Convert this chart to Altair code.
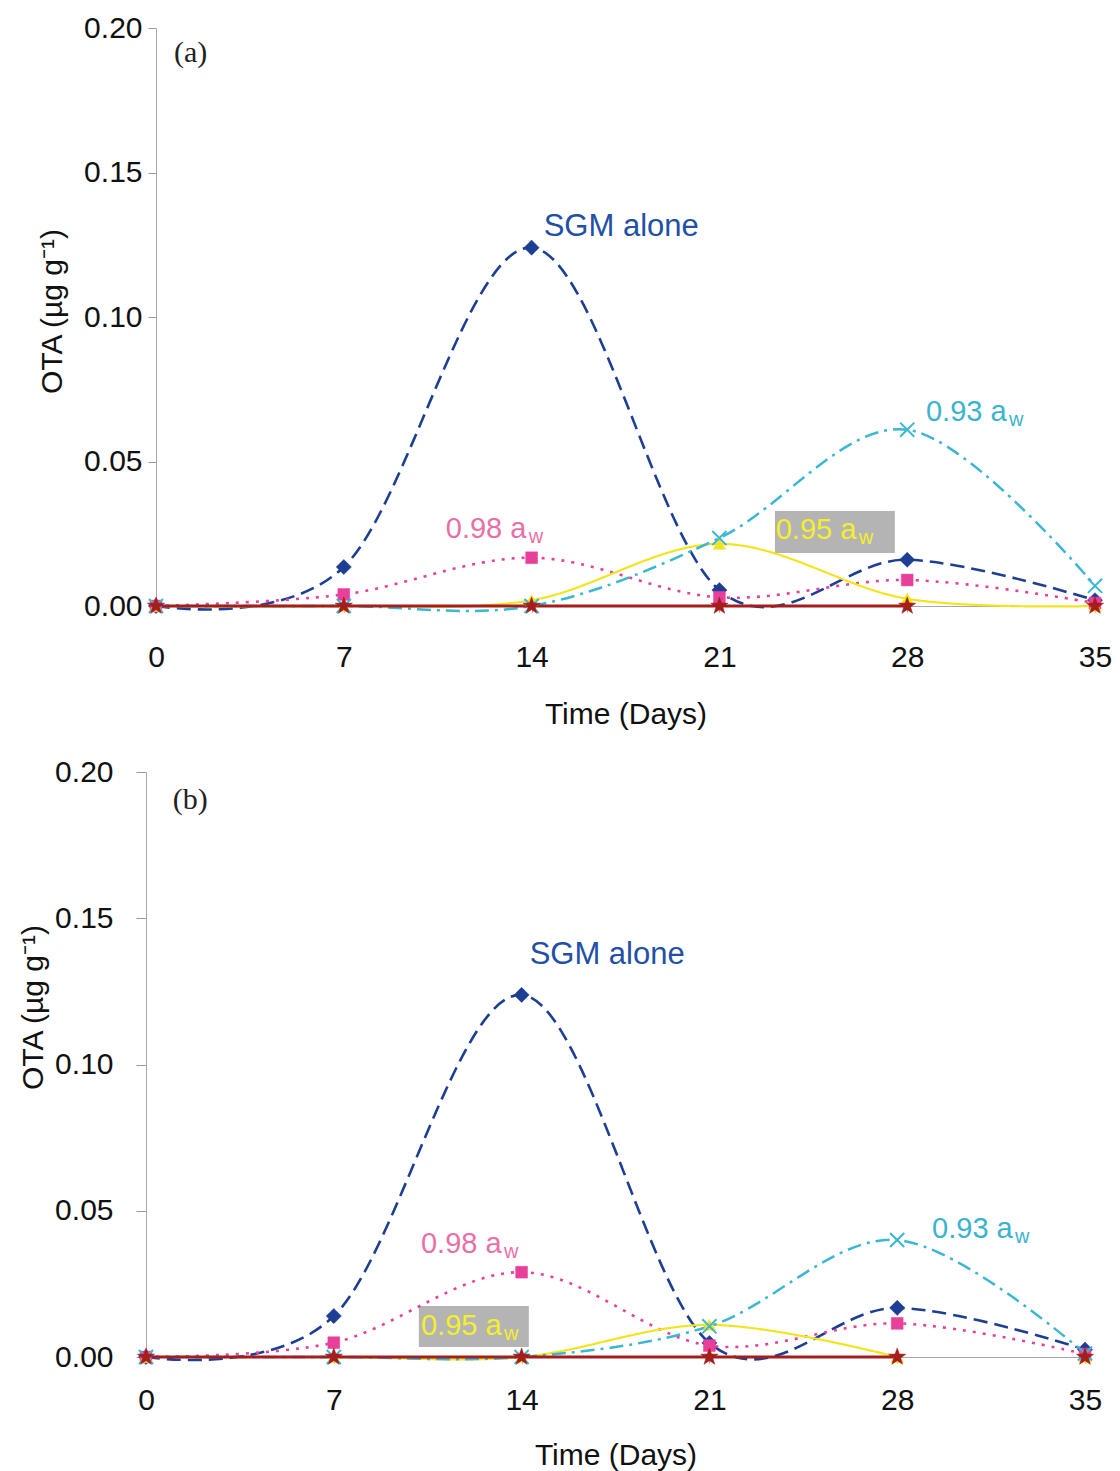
import altair as alt
import pandas as pd

# Sampling days
days = [0, 7, 14, 21, 28, 35]

# Panel (a): OTA (µg/g) per treatment
sgm_a = [0.0, 0.0135, 0.124, 0.0055, 0.016, 0.002]
aw98_a = [0.0, 0.004, 0.0167, 0.003, 0.009, 0.001]
aw95_a = [0.0, 0.0, 0.002, 0.0215, 0.0025, 0.0]
aw93_a = [0.0, 0.0, 0.0, 0.0235, 0.061, 0.007]
base_a = [0.0, 0.0, 0.0, 0.0, 0.0, 0.0]

# Panel (b)
sgm_b = [0.0, 0.014, 0.1238, 0.0048, 0.0168, 0.0025]
aw98_b = [0.0, 0.0049, 0.029, 0.0039, 0.0115, 0.001]
aw95_b = [0.0, 0.0, 0.0, 0.011, 0.0, 0.0]
aw93_b = [0.0, 0.0, 0.0, 0.0105, 0.040, 0.0012]
base_b = [0.0, 0.0, 0.0, 0.0, 0.0, 0.0]

# Last day the connecting line is drawn to (markers are drawn on every day)
line_last_a = [35, 35, 35, 35, 28]
line_last_b = [35, 35, 28, 35, 28]

series_names = ["SGM alone", "0.98 aw", "0.95 aw", "0.93 aw", "baseline"]
series_colors = ["#1c3f94", "#e8409a", "#f3e41e", "#3ab7d2", "#a51d1d"]
series_dash = [[14, 7], [3, 7], [1, 0], [14, 6, 3, 6], [1, 0]]
series_width = [2.6, 2.6, 2.2, 2.5, 2.8]

X_PATH = "M-1,-1L1,1M-1,1L1,-1"
STAR_PATH = ("M0,-1L0.24,-0.33L0.95,-0.31L0.38,0.12L0.59,0.81L0,0.4"
             "L-0.59,0.81L-0.38,0.12L-0.95,-0.31L-0.24,-0.33Z")
series_shape = ["diamond", "square", "triangle-up", X_PATH, STAR_PATH]
series_size = [230, 140, 160, 200, 330]

# Annotations (day, OTA) for each panel
ann_text = ["SGM alone", "0.98 a", "0.93 a", "0.95 a"]
ann_color = ["#2150a6", "#ea6fa9", "#3ab3cf", "#f4ef2c"]
ann_size = [31, 29, 29, 29]
ann_x_a = [14.45, 10.8, 28.7, 23.1]
ann_y_a = [0.131, 0.0268, 0.067, 0.0262]
ann_x_b = [14.3, 10.25, 29.3, 10.25]
ann_y_b = [0.1375, 0.0386, 0.0438, 0.0106]
ann_sub = [False, True, True, True]

# Grey boxes behind the 0.95 aw label
box_a = [23.07, 27.54, 0.0183, 0.0329]
box_b = [10.17, 14.27, 0.0034, 0.0174]

tag_a = ["(a)", 0.67, 0.1915]
tag_b = ["(b)", 1.0, 0.1905]

FONT = "Liberation Sans"
Y_TITLE = "OTA (µg g⁻¹)"


def build_panel(values, line_last, ann_x, ann_y, box, tag, width, height,
                x_range, y_axis, x_axis):
    rows = []
    for name, vals in zip(series_names, values):
        for d, v in zip(days, vals):
            rows.append({"day": d, "ota": v, "series": name})
    df = pd.DataFrame(rows)

    xs = alt.Scale(domain=[0, 35], range=x_range, nice=False, zero=False)
    ys = alt.Scale(domain=[0, 0.2], nice=False)

    base = alt.Chart(df)
    layers = []

    # grey label box
    box_df = pd.DataFrame([{"x": box[0], "x2": box[1], "y": box[2], "y2": box[3]}])
    layers.append(
        alt.Chart(box_df).mark_rect(color="#b0b0b0", opacity=0.95).encode(
            x=alt.X("x:Q", scale=xs, axis=x_axis, title="Time (Days)"),
            x2="x2:Q",
            y=alt.Y("y:Q", scale=ys, axis=y_axis, title=Y_TITLE),
            y2="y2:Q",
        )
    )

    for i, name in enumerate(series_names):
        layers.append(
            base.transform_filter(
                (alt.datum.series == name) & (alt.datum.day <= line_last[i])
            ).mark_line(
                color=series_colors[i],
                strokeDash=series_dash[i],
                strokeWidth=series_width[i],
                interpolate="cardinal",
            ).encode(
                x=alt.X("day:Q", scale=xs),
                y=alt.Y("ota:Q", scale=ys),
            )
        )

    for i, name in enumerate(series_names):
        is_x = series_shape[i] == X_PATH
        mk = dict(shape=series_shape[i], size=series_size[i], opacity=1)
        if is_x:
            mk.update(filled=False, stroke=series_colors[i], strokeWidth=2)
        else:
            mk.update(filled=True, fill=series_colors[i], stroke=series_colors[i],
                      strokeWidth=0.5)
        layers.append(
            base.transform_filter(alt.datum.series == name)
            .mark_point(**mk)
            .encode(x=alt.X("day:Q", scale=xs), y=alt.Y("ota:Q", scale=ys))
        )

    ann_df = pd.DataFrame({
        "x": ann_x, "y": ann_y, "text": ann_text, "color": ann_color,
        "size": ann_size,
        "sub": ["w" if s else "" for s in ann_sub],
    })
    layers.append(
        alt.Chart(ann_df).mark_text(
            align="left", baseline="middle", font=FONT
        ).encode(
            x=alt.X("x:Q", scale=xs), y=alt.Y("y:Q", scale=ys),
            text="text:N", color=alt.Color("color:N", scale=None),
            size=alt.Size("size:Q", scale=None),
        )
    )
    layers.append(
        alt.Chart(ann_df).mark_text(
            align="left", baseline="middle", font=FONT, fontSize=20, dx=83, dy=8
        ).encode(
            x=alt.X("x:Q", scale=xs), y=alt.Y("y:Q", scale=ys),
            text="sub:N", color=alt.Color("color:N", scale=None),
        )
    )

    tag_df = pd.DataFrame([{"text": tag[0], "x": tag[1], "y": tag[2]}])
    layers.append(
        alt.Chart(tag_df).mark_text(
            align="left", baseline="middle", font="Liberation Serif", fontSize=30,
            color="#222222",
        ).encode(x=alt.X("x:Q", scale=xs), y=alt.Y("y:Q", scale=ys), text="text:N")
    )

    return alt.layer(*layers).properties(width=width, height=height)


common_axis = dict(
    grid=False, domainColor="#a8a8a8", tickColor="#9a9a9a", labelColor="#111111",
    titleColor="#111111", labelFont=FONT, titleFont=FONT, labelFontSize=30,
    titleFontSize=30, titleFontWeight="normal",
)

y_axis_a = alt.Axis(values=[0, 0.05, 0.1, 0.15, 0.2], format=".2f", tickSize=8,
                    labelPadding=6, titlePadding=16, offset=-10, titleY=283,
                    **common_axis)
x_axis_a = alt.Axis(values=days, format="d", tickSize=6, labelPadding=30,
                    titlePadding=27, labelFlush=False, **common_axis)
y_axis_b = alt.Axis(values=[0, 0.05, 0.1, 0.15, 0.2], format=".2f", tickSize=10,
                    labelPadding=23, titlePadding=6, titleY=235, **common_axis)
x_axis_b = alt.Axis(values=days, format="d", tickSize=6, labelPadding=22,
                    titlePadding=25, labelFlush=False, **common_axis)

panel_a = build_panel(
    [sgm_a, aw98_a, aw95_a, aw93_a, base_a], line_last_a, ann_x_a, ann_y_a,
    box_a, tag_a, 949, 578, [10, 949], y_axis_a, x_axis_a,
)
panel_b = build_panel(
    [sgm_b, aw98_b, aw95_b, aw93_b, base_b], line_last_b, ann_x_b, ann_y_b,
    box_b, tag_b, 939, 585, [0, 939], y_axis_b, x_axis_b,
)

chart = alt.vconcat(panel_a, panel_b, spacing=28).properties(
    padding={"left": 18, "top": 13, "right": 5, "bottom": 5},
    background="white",
).configure_view(stroke=None)

chart.save("out.html", embed_options={"renderer": "svg", "actions": False})
